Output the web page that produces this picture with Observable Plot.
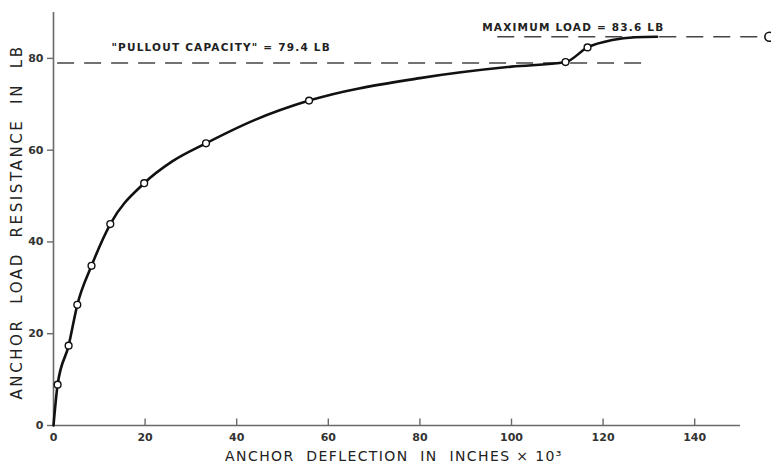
<!DOCTYPE html>
<html>
<head>
<meta charset="utf-8">
<script src="https://cdn.jsdelivr.net/npm/d3@7"></script>
<script src="https://cdn.jsdelivr.net/npm/@observablehq/plot@0.6"></script>
<style>
  html, body { margin: 0; padding: 0; background: #fff; }
  #chart svg { display: block; }
</style>
</head>
<body>
<div id="chart"></div>
<script>
// Measured points (open circles)
const pointX = [0.9, 3.3, 5.2, 8.3, 12.4, 19.8, 33.3, 55.8, 111.8, 116.6];
const pointY = [8.9, 17.4, 26.3, 34.8, 43.9, 52.8, 61.5, 70.8, 79.2, 82.4];
// Faired curve
const curveX = [0, 0.9, 3.3, 5.2, 8.3, 12.4, 19.8, 26, 33.3, 44, 55.8, 80, 100, 111.8, 116.6, 122, 127, 131.8];
const curveY = [0, 8.9, 17.4, 26.3, 34.8, 43.9, 52.8, 57.6, 61.5, 66.6, 70.8, 75.7, 78.2, 79.2, 82.4, 84.0, 84.6, 84.7];
// Reference lines (as drawn)
const pulloutLine = {y: 79.0, x1: 0.9, x2: 129.6, label: '"PULLOUT CAPACITY" = 79.4 LB', lx: 36.6, ly: 82.3};
const maxLine = {y: 84.7, x1: 97, x2: 156, label: "MAXIMUM LOAD = 83.6 LB", lx: 113.5, ly: 86.6};
const endPoint = [{x: 156.3, y: 84.7}];
// Axes
const xTicks = [0, 20, 40, 60, 80, 100, 120, 140];
const yTicks = [0, 20, 40, 60, 80];
const xTitle = "ANCHOR  DEFLECTION  IN  INCHES × 10³";
const yTitle = "ANCHOR  LOAD  RESISTANCE  IN  LB";

const points = pointX.map((x, i) => ({x, y: pointY[i]}));
const curve = curveX.map((x, i) => ({x, y: curveY[i]}));
const axisColor = "#6a6a6a";

const chart = Plot.plot({
  width: 771,
  height: 468,
  marginLeft: 53,
  marginRight: 31,
  marginTop: 12,
  marginBottom: 43,
  style: {fontFamily: "DejaVu Sans, sans-serif", background: "#fff", color: "#222"},
  x: {domain: [0, 150]},
  y: {domain: [0, 90]},
  marks: [
    // axis lines
    Plot.ruleX([0], {y1: 0, y2: 90, stroke: axisColor, strokeWidth: 1.6}),
    Plot.ruleY([0], {x1: 0, x2: 150, stroke: axisColor, strokeWidth: 1.6}),
    // x ticks pointing up
    Plot.ruleX(xTicks.filter(d => d > 0), {y1: 0, y2: 1.4, stroke: axisColor, strokeWidth: 1.4}),
    Plot.axisX({ticks: xTicks, tickSize: 0, tickPadding: 8, fontSize: 11, fontWeight: "bold", fill: "#333"}),
    Plot.axisY({ticks: yTicks, tickSize: 6, tickPadding: 4, fontSize: 11, fontWeight: "bold", fill: "#333", stroke: axisColor, strokeWidth: 1.4}),
    // reference dashed lines
    Plot.ruleY([pulloutLine], {y: "y", x1: "x1", x2: "x2", stroke: "#444", strokeWidth: 1.6, strokeDasharray: "17,10"}),
    Plot.ruleY([maxLine], {y: "y", x1: "x1", x2: "x2", stroke: "#444", strokeWidth: 1.6, strokeDasharray: "17,10", clip: false}),
    Plot.text([pulloutLine], {x: "lx", y: "ly", text: "label", fontSize: 10.5, fill: "#222", fontWeight: "bold"}),
    Plot.text([maxLine], {x: "lx", y: "ly", text: "label", fontSize: 10.5, fill: "#222", fontWeight: "bold"}),
    // curve
    Plot.line(curve, {x: "x", y: "y", curve: "monotone-x", stroke: "#111", strokeWidth: 2.6}),
    Plot.dot(points, {x: "x", y: "y", r: 3.4, fill: "#fff", stroke: "#111", strokeWidth: 1.4}),
    Plot.dot(endPoint, {x: "x", y: "y", r: 4.5, fill: "#fff", stroke: "#111", strokeWidth: 1.6, clip: false}),
    // titles
    Plot.text([xTitle], {frameAnchor: "bottom", textAnchor: "middle", dx: -3, dy: 35, fontSize: 14, fill: "#222"}),
    Plot.text([yTitle], {frameAnchor: "left", textAnchor: "middle", dx: -36, dy: 3, rotate: -90, fontSize: 15, fill: "#222"})
  ]
});

d3.select(chart).selectAll("text").each(function () {
  const t = d3.select(this);
  const s = t.text();
  if (s === xTitle) t.style("letter-spacing", "1.4px").style("white-space", "pre");
  if (s === yTitle) t.style("letter-spacing", "2.6px").style("white-space", "pre");
  if (s === pulloutLine.label || s === maxLine.label) t.style("letter-spacing", "1.2px");
});
document.getElementById("chart").appendChild(chart);
</script>
</body>
</html>
